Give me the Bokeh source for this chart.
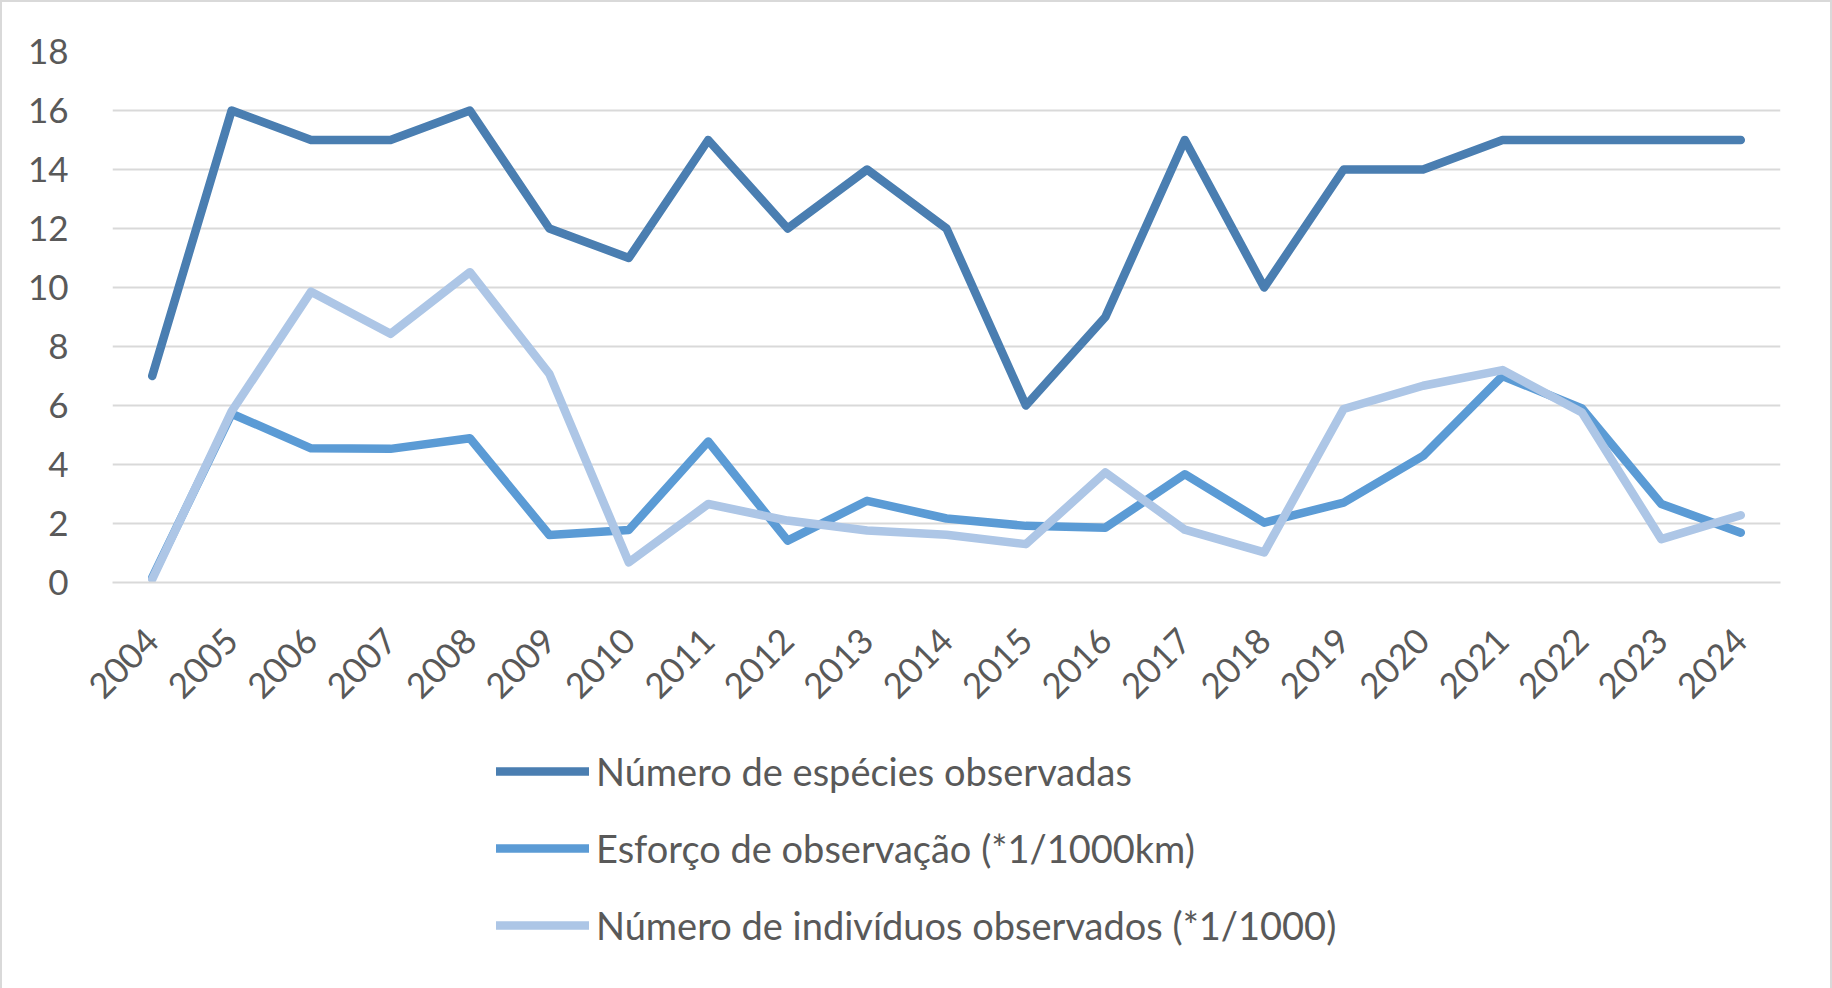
import math
from bokeh.plotting import figure
from bokeh.layouts import column
from bokeh.models import (ColumnDataSource, FactorRange, Range1d, SingleIntervalTicker,
                          Legend, LegendItem)
from bokeh.embed import file_html
from bokeh.resources import INLINE

years = [str(y) for y in range(2004, 2025)]
species = [7, 16, 15, 15, 16, 12, 11, 15, 12, 14, 12, 6, 9, 15, 10, 14, 14, 15, 15, 15, 15]
effort = [0.17, 5.72, 4.55, 4.53, 4.89, 1.61, 1.78, 4.78, 1.42, 2.77, 2.17, 1.92, 1.86,
          3.67, 2.03, 2.71, 4.29, 7.0, 5.9, 2.66, 1.69]
individuals = [0.11, 5.8, 9.86, 8.43, 10.52, 7.07, 0.68, 2.66, 2.1, 1.76, 1.62, 1.3, 3.73,
               1.79, 1.02, 5.88, 6.67, 7.2, 5.76, 1.47, 2.28]
y_ticks_interval = 2
names = ["Número de espécies observadas",
         "Esforço de observação (*1/1000km)",
         "Número de indivíduos observados (*1/1000)"]
colors = ["#4a7eb1", "#5b9bd5", "#adc6e6"]

FONT = "Lato"
TXT = "#595959"
GRID = "#d9d9d9"
LW = 8.5

src = ColumnDataSource(dict(x=years, s=species, e=effort, i=individuals))

H1 = 710
p = figure(width=1828, height=H1, x_range=FactorRange(*years), y_range=Range1d(0, 18),
           output_backend="svg", toolbar_location=None,
           min_border_left=110, min_border_right=50, min_border_top=49,
           min_border_bottom=129)
p.outline_line_color = None
p.background_fill_color = "white"

for col, c in zip(["s", "e", "i"], colors):
    p.line("x", col, source=src, line_color=c, line_width=LW,
           line_cap="round", line_join="round")

p.yaxis.ticker = SingleIntervalTicker(interval=y_ticks_interval)
p.ygrid.ticker = SingleIntervalTicker(interval=y_ticks_interval)
p.ygrid.grid_line_color = GRID
p.ygrid.grid_line_width = 2
p.xgrid.grid_line_color = None

for ax in (p.xaxis, p.yaxis):
    ax.major_tick_line_color = None
    ax.minor_tick_line_color = None
    ax.major_label_text_font = FONT
    ax.major_label_text_font_size = "35px"
    ax.major_label_text_color = TXT
p.yaxis.axis_line_color = None
p.yaxis.major_label_standoff = 38
p.xaxis.axis_line_color = GRID
p.xaxis.axis_line_width = 2
p.xaxis.major_label_orientation = math.pi / 4
p.xaxis.major_label_standoff = 46

# legend panel below the chart (same series, drawn out of view; only the swatches show)
H2 = 986 - H1
q = figure(width=1828, height=H2, x_range=FactorRange(*years), y_range=Range1d(100, 101),
           output_backend="svg", toolbar_location=None, min_border=0)
q.axis.visible = False
q.grid.visible = False
q.outline_line_color = None
items = []
for col, name, c in zip(["s", "e", "i"], names, colors):
    r = q.line("x", col, source=src, line_color=c, line_width=LW, line_cap="round")
    items.append(LegendItem(label=name, renderers=[r]))
legend = Legend(items=items, location=(384, 40), orientation="vertical",
                glyph_width=93, glyph_height=40, label_height=40, spacing=31,
                label_standoff=7, padding=0, margin=0,
                border_line_color=None, background_fill_alpha=0,
                label_text_font=FONT, label_text_font_size="38px",
                label_text_color=TXT)
q.add_layout(legend, "center")

layout = column(p, q, spacing=0)
layout.styles = {"border": "2px solid #d9d9d9"}

open("out.html", "w").write(file_html(layout, INLINE))
